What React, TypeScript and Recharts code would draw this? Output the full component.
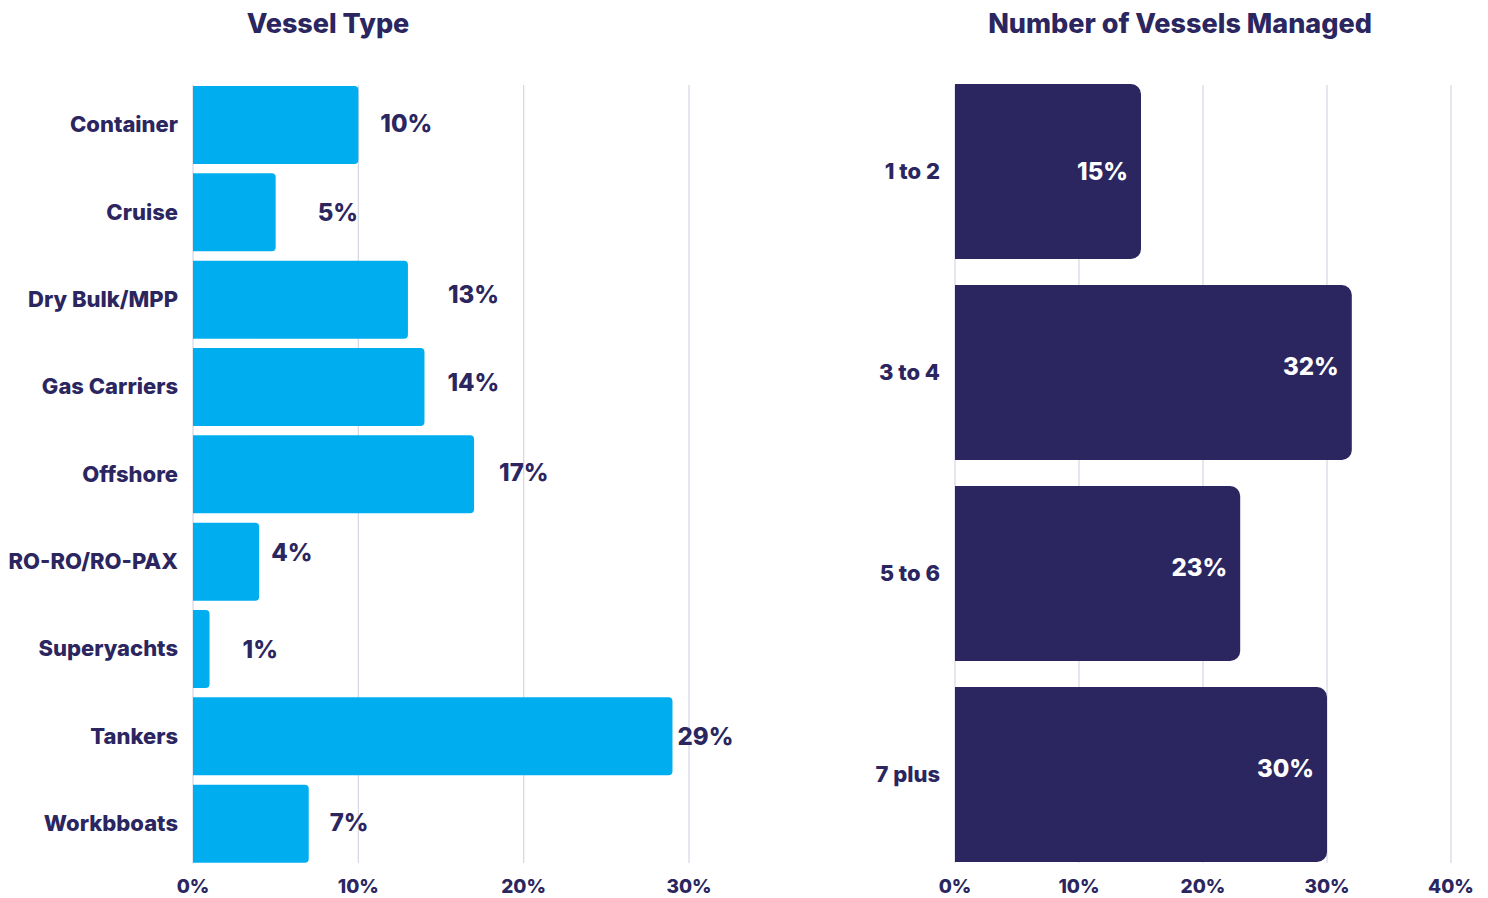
import React from 'react';
import { BarChart, Bar, XAxis, YAxis, CartesianGrid, LabelList } from 'recharts';

const vesselTypes = ['Container', 'Cruise', 'Dry Bulk/MPP', 'Gas Carriers', 'Offshore', 'RO-RO/RO-PAX', 'Superyachts', 'Tankers', 'Workbboats'];
const vesselShares = [10, 5, 13, 14, 17, 4, 1, 29, 7];
const vesselTicks = [0, 10, 20, 30];

const fleetSizes = ['1 to 2', '3 to 4', '5 to 6', '7 plus'];
const fleetShares = [15, 32, 23, 30];
const fleetTicks = [0, 10, 20, 30, 40];

// label nudges (px) so the value labels sit where the original put them
const vesselLabelDx = [22, 42, 40, 23, 25, 12, 33, 5, 21];
const vesselLabelDy = [-2, 0, -5, -5, -2, -9, 0, 0, -1];

const NAVY = '#2B2660';
const BLUE = '#00AEEF';
const GRID = '#D7D6E4';
const FONT = 'Inter, "Noto Sans", sans-serif';

const vesselData = vesselTypes.map((name, i) => ({ name, value: vesselShares[i] }));
const fleetData = fleetSizes.map((name, i) => ({ name, value: fleetShares[i] }));

const catTick = { fill: NAVY, fontSize: 22, fontWeight: 800, fontFamily: FONT };
const pct = (v: number) => `${v}%`;

// x tick with baseline placed a fixed distance below the axis
const makeXTick = (baseline: number) => (props: any) => {
  const { x, y, payload } = props;
  return (
    <text
      x={x}
      y={y + baseline}
      textAnchor="middle"
      fill={NAVY}
      fontSize={19}
      fontWeight={800}
      fontFamily={FONT}
    >
      {pct(payload.value)}
    </text>
  );
};

const VesselLabel = (props: any) => {
  const { x, y, width, height, value, index } = props;
  const i = typeof index === 'number' ? index : vesselShares.indexOf(value);
  return (
    <text
      x={x + width + (vesselLabelDx[i] ?? 20)}
      y={y + height / 2 + (vesselLabelDy[i] ?? 0)}
      dominantBaseline="central"
      fill={NAVY}
      fontSize={24}
      fontWeight={800}
      fontFamily={FONT}
    >
      {value}%
    </text>
  );
};

const FleetLabel = (props: any) => {
  const { x, y, width, height, value, index } = props;
  return (
    <text
      x={x + width - 13}
      y={y + height / 2 + (index === 0 ? 0 : -6)}
      textAnchor="end"
      dominantBaseline="central"
      fill="#FFFFFF"
      fontSize={24}
      fontWeight={800}
      fontFamily={FONT}
    >
      {value}%
    </text>
  );
};

const Title = ({ text, center }: { text: string; center: number }) => (
  <div
    style={{
      position: 'absolute',
      top: 6,
      left: center - 300,
      width: 600,
      textAlign: 'center',
      color: NAVY,
      fontFamily: FONT,
      fontWeight: 800,
      fontSize: 27,
      lineHeight: '36px',
    }}
  >
    {text}
  </div>
);

export default function App() {
  return (
    <div style={{ position: 'absolute', left: 0, top: 0, width: 1488, height: 898, background: '#fff' }}>
      <Title text="Vessel Type" center={328} />
      <Title text="Number of Vessels Managed" center={1180} />

      <div style={{ position: 'absolute', left: 0, top: 0 }}>
        <BarChart
          width={760}
          height={898}
          data={vesselData}
          layout="vertical"
          margin={{ top: 81, right: 71, bottom: 0, left: 0 }}
          barSize={78}
        >
          <CartesianGrid horizontal={false} stroke={GRID} strokeWidth={1.2} y={85} height={778} />
          <XAxis
            type="number"
            domain={[0, 30]}
            ticks={vesselTicks}
            axisLine={false}
            tickLine={false}
            tickSize={0}
            tickMargin={0}
            height={31}
            tick={makeXTick(26)}
            interval={0}
          />
          <YAxis
            type="category"
            dataKey="name"
            width={193}
            axisLine={false}
            tickLine={false}
            tickSize={0}
            tickMargin={15}
            tick={catTick}
            interval={0}
          />
          <Bar dataKey="value" fill={BLUE} radius={[0, 4, 4, 0]} isAnimationActive={false}>
            <LabelList dataKey="value" content={VesselLabel} />
          </Bar>
        </BarChart>
      </div>

      <div style={{ position: 'absolute', left: 760, top: 0 }}>
        <BarChart
          width={728}
          height={898}
          data={fleetData}
          layout="vertical"
          margin={{ top: 71, right: 37, bottom: 0, left: 0 }}
          barSize={175}
        >
          <CartesianGrid horizontal={false} stroke={GRID} strokeWidth={1.2} y={85} height={778} />
          <XAxis
            type="number"
            domain={[0, 40]}
            ticks={fleetTicks}
            axisLine={false}
            tickLine={false}
            tickSize={0}
            tickMargin={0}
            height={23}
            tick={makeXTick(18)}
            interval={0}
          />
          <YAxis
            type="category"
            dataKey="name"
            width={195}
            axisLine={false}
            tickLine={false}
            tickSize={0}
            tickMargin={15}
            tick={catTick}
            interval={0}
          />
          <Bar dataKey="value" fill={NAVY} radius={[0, 10, 10, 0]} isAnimationActive={false}>
            <LabelList dataKey="value" content={FleetLabel} />
          </Bar>
        </BarChart>
      </div>
    </div>
  );
}
